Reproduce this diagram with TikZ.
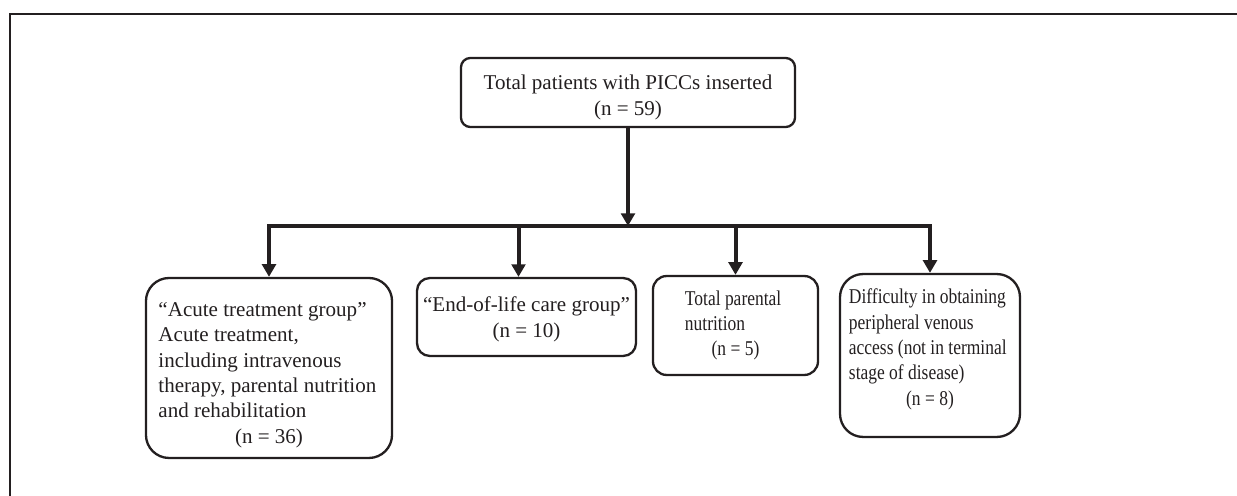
\documentclass[tikz,border=0pt]{standalone}
\usepackage{fontspec}
\setmainfont{Liberation Serif}
\newfontfamily\narrowserif[FakeStretch=0.83]{Liberation Serif}
\usetikzlibrary{arrows.meta}
\definecolor{ink}{HTML}{231F20}

\begin{document}
\begin{tikzpicture}[x=0.475pt, y=-0.475pt, >={Triangle[width=6.5pt,length=6pt]},
  box/.style={draw=ink, text=ink, line width=1.1pt, rounded corners=#1, inner sep=2pt,
    execute at begin node={\spaceskip=0pt\xspaceskip=0pt}},
  link/.style={draw=ink, line width=1.9pt}]
\useasboundingbox (0,0) rectangle (1237,496);
\draw[ink, line width=1pt] (10,496) -- (10,14) -- (1237,14);
\node[box=4.5pt, align=center, minimum width=158.7pt, minimum height=32.8pt] (total) at (628,92.5) {\rule{0pt}{11.6pt}Total patients with PICCs inserted\\(n = 59)};
\node[box=11pt, text width=105pt, minimum width=116.9pt, minimum height=85.5pt] (acute) at (269,368) {\rule{0pt}{13.4pt}“Acute treatment group”\\Acute treatment,\\including intravenous\\therapy, parental nutrition\\and rehabilitation\par\centering (n = 36)\par};
\node[box=6pt, align=center, minimum width=104pt, minimum height=37pt] (endlife) at (526.5,317) {\rule{0pt}{9.3pt}“End-of-life care group”\\(n = 10)};
\node[box=6.5pt, font=\narrowserif, text width=48pt, minimum width=78.4pt, minimum height=47pt] (tpn) at (735.5,325.5) {Total parental\\nutrition\par\centering (n = 5)\par};
\node[box=11pt, font=\narrowserif, text width=77pt, minimum width=85.5pt, minimum height=77.4pt] (access) at (930,355.5) {Difficulty in obtaining\\peripheral venous\\access (not in terminal\\stage of disease)\par\centering (n = 8)\rule[-8pt]{0pt}{8pt}\par};
\coordinate (split) at (628,226);
\draw[link,->] (total) -- (split);
\draw[link,->] (split) -| (acute);
\draw[link,->] ([xshift=-3.8pt]endlife.north |- split) -- ([xshift=-3.8pt]endlife.north);
\draw[link,->] (split -| tpn) -- (tpn);
\draw[link,->] (split) -| (access);
\end{tikzpicture}
\end{document}
